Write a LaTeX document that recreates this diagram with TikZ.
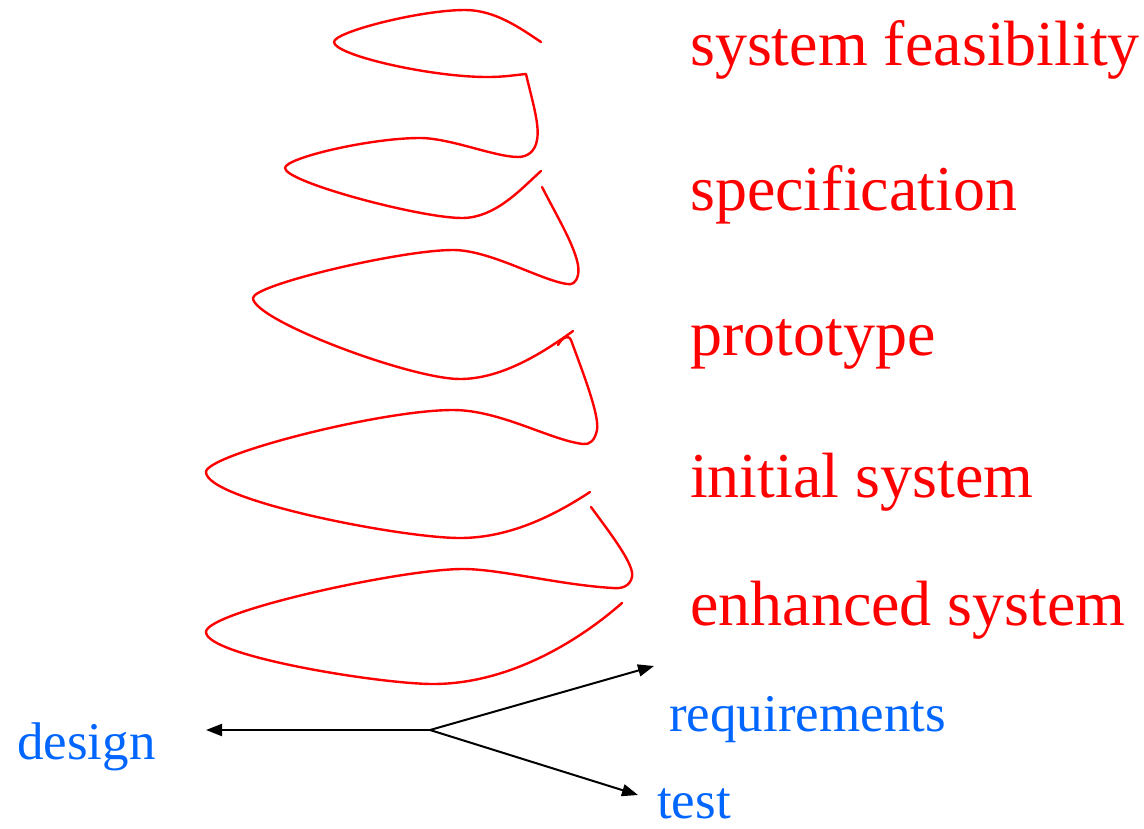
\documentclass[tikz,border=0pt]{standalone}
\usepackage{fontspec}
\setmainfont{Liberation Serif}
\usetikzlibrary{arrows.meta}
\definecolor{loopred}{RGB}{255,0,0}
\definecolor{labelblue}{RGB}{0,102,255}
\begin{document}
\begin{tikzpicture}[x=1pt,y=-1pt,
  loopline/.style={draw=loopred,line width=2.4pt,line cap=round,line join=round},
  phase/.style={anchor=base west,inner sep=0pt,text=loopred,font=\fontsize{64}{70}\selectfont},
  axislabel/.style={anchor=base west,inner sep=0pt,text=labelblue,font=\fontsize{53}{60}\selectfont},
  axisarrow/.style={draw=black,line width=2pt,-{Triangle[length=16pt,width=12pt]}}]
\useasboundingbox (0,0) rectangle (1144,828);
% spiral loops
\path[loopline] (541,42) .. controls (520,28) and (495,10) .. (465,10)
  .. controls (420,10) and (334,32) .. (334,42)
  .. controls (334,55) and (430,77) .. (487,77)
  .. controls (505,77) and (515,75) .. (526,74)
  .. controls (532,100) and (540,125) .. (537,140)
  .. controls (535,152) and (527,157) .. (518,157)
  .. controls (495,157) and (450,138) .. (420,138)
  .. controls (370,138) and (285,158) .. (285,168)
  .. controls (285,182) and (420,218) .. (462,218)
  .. controls (495,218) and (520,190) .. (541,171);
\path[loopline] (542,187) .. controls (560,222) and (582,258) .. (578,275)
  .. controls (576,283) and (572,285) .. (567,284)
  .. controls (540,280) and (490,250) .. (453,250)
  .. controls (400,250) and (253,285) .. (253,298)
  .. controls (253,320) and (410,379) .. (460,379)
  .. controls (500,379) and (540,355) .. (573,331);
\path[loopline] (558,345) .. controls (562,338) and (568,334) .. (571,340)
  .. controls (580,365) and (600,415) .. (597,430)
  .. controls (595,440) and (590,445) .. (583,444)
  .. controls (550,440) and (500,410) .. (453,410)
  .. controls (380,410) and (206,455) .. (206,472)
  .. controls (206,500) and (400,538) .. (460,538)
  .. controls (510,538) and (555,515) .. (590,492);
\path[loopline] (591,507) .. controls (610,533) and (635,565) .. (632,577)
  .. controls (630,586) and (622,589) .. (613,588)
  .. controls (560,585) and (500,569) .. (463,569)
  .. controls (400,569) and (206,612) .. (206,632)
  .. controls (206,656) and (380,684) .. (433,684)
  .. controls (510,684) and (580,640) .. (622,603);
% phase labels
\node[phase] (feas) at (690,65) {system feasibility};
\node[phase] (spec) at (690,210) {specification};
\node[phase] (proto) at (690,355) {prototype};
\node[phase] (init) at (690,497) {initial system};
\node[phase] (enh) at (690,625) {enhanced system};
% axis labels
\node[axislabel] (design) at (17,759) {design};
\node[axislabel] (req) at (669,731) {requirements};
\node[axislabel,text depth=0pt] (test) at (657,818) {test};
% axes
\coordinate (c) at (430,730);
\coordinate (dtip) at (206,730);
\coordinate (rtip) at (654,666);
\coordinate (ttip) at (638,795);
\draw[axisarrow] (c) -- (dtip);
\draw[axisarrow] (c) -- (rtip);
\draw[axisarrow] (c) -- (ttip);
\end{tikzpicture}
\end{document}
